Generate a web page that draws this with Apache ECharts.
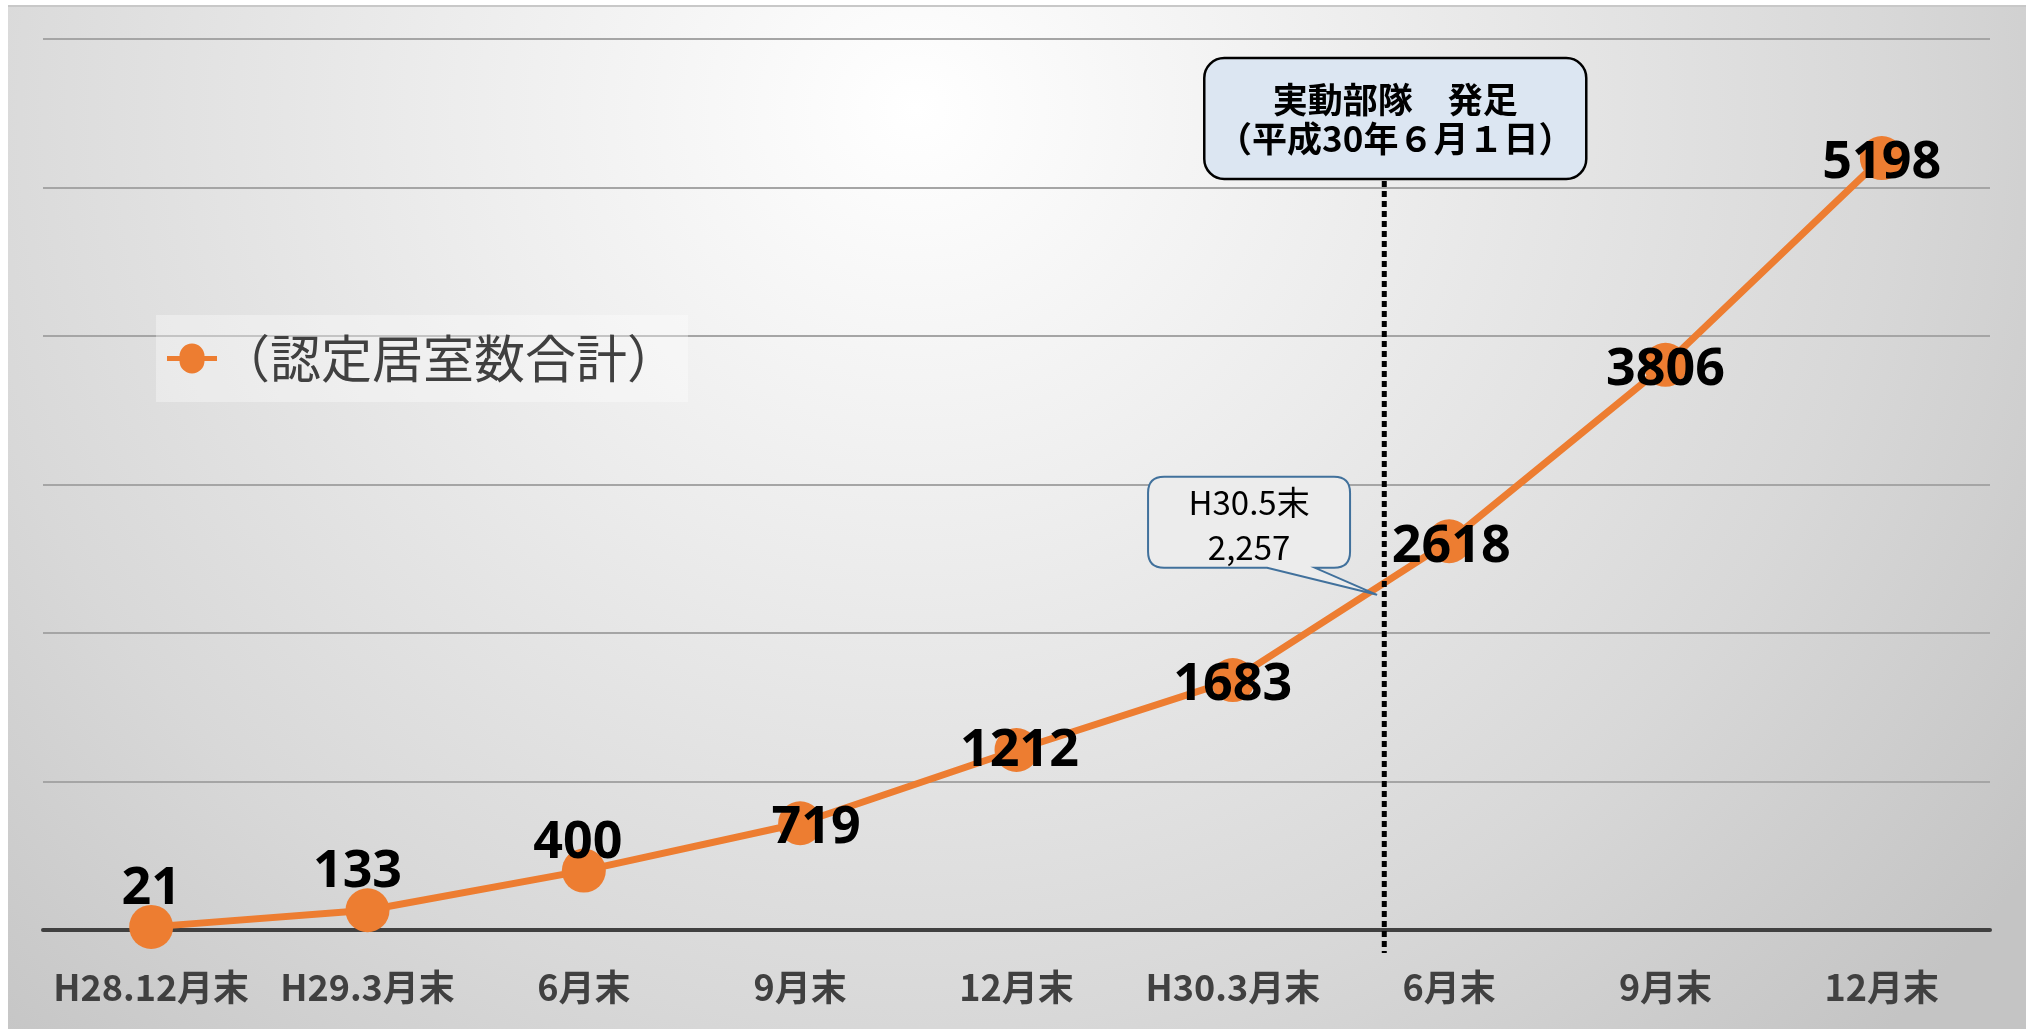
<!DOCTYPE html>
<html><head><meta charset="utf-8">
<script src="https://cdn.jsdelivr.net/npm/echarts@6/dist/echarts.min.js"></script>
<style>
html,body{margin:0;padding:0;background:#fff;}
#bg{position:absolute;left:8px;top:5px;width:2018px;height:1022px;
 background:radial-gradient(ellipse 80% 150% at 45% 10%, #ffffff 0%, #ececec 30%, #d8d8d8 60%, #c4c4c4 85%);
 border-top:2px solid #c8c8c8;}
#chart{position:absolute;left:0;top:0;width:2033px;height:1030px;}
</style></head>
<body><div id="bg"></div><div id="chart"></div>
<script>
// ---- data ----
const categories = ['H28.12月末','H29.3月末','6月末','9月末','12月末','H30.3月末','6月末','9月末','12月末'];
const seriesName = '（認定居室数合計）';
const roomTotals = [21,133,400,719,1212,1683,2618,3806,5198];
const yMin = 0, yMax = 6000, yInterval = 1000;
const launchPos = 5.7;            // 6月1日: between H30.3月末 and 6月末
const launchText = ['実動部隊\u3000発足','（平成30年６月１日）'];
const calloutPos = 5 + 2/3;       // H30.5末
const calloutValue = 2257;
const calloutLabel = 'H30.5末';

// ---- styling ----
const ORANGE = '#ed7d31';
const labelOffsets = [[0,-38],[-10,-38],[-6,-27],[16,5],[3,1],[0,5],[2,6],[0,5],[0,5]];
const CJK = '"Noto Sans CJK JP", "Noto Sans", sans-serif';
const NUM = '"Noto Sans", sans-serif';

const lineData = roomTotals.map((v, i) => ({
  value: v,
  label: { offset: labelOffsets[i] }
}));

function renderLaunch(params, api) {
  const p = api.coord([api.value(0), api.value(1)]);
  const cs = params.coordSys;
  const bottom = cs.y + cs.height;
  const cx = p[0] + 11, top = p[1] + 19, w = 382, h = 121;
  return {
    type: 'group',
    children: [
      { type: 'line', shape: { x1: p[0], y1: top + h + 2, x2: p[0], y2: bottom + 23 },
        style: { stroke: '#000', lineWidth: 5, lineDash: [6, 4] } },
      { type: 'rect', shape: { x: cx - w / 2, y: top, width: w, height: h, r: 20 },
        style: { fill: '#dce6f2', stroke: '#000', lineWidth: 2.5 } },
      { type: 'text', style: { text: launchText[0], x: cx, y: top + 42, align: 'center', verticalAlign: 'middle',
        fill: '#000', font: 'bold 35px ' + CJK } },
      { type: 'text', style: { text: launchText[1], x: cx, y: top + 81, align: 'center', verticalAlign: 'middle',
        fill: '#000', font: 'bold 35px ' + CJK } }
    ]
  };
}

function renderCallout(params, api) {
  const t = api.coord([api.value(0), api.value(1)]);
  const L = t[0] - 229, R = t[0] - 27, T = t[1] - 118, B = t[1] - 27, r = 16;
  const b1 = t[0] - 110, b2 = t[0] - 62;
  const d = `M${L + r},${T} H${R - r} Q${R},${T} ${R},${T + r} V${B - r} Q${R},${B} ${R - r},${B} H${b2} L${t[0]},${t[1]} L${b1},${B} H${L + r} Q${L},${B} ${L},${B - r} V${T + r} Q${L},${T} ${L + r},${T} Z`;
  const cx = (L + R) / 2;
  return {
    type: 'group',
    children: [
      { type: 'path', shape: { pathData: d }, style: { fill: '#ececec', stroke: '#41719c', lineWidth: 2 } },
      { type: 'text', style: { text: calloutLabel, x: cx, y: t[1] - 92, align: 'center', verticalAlign: 'middle',
        fill: '#000', font: '33px ' + CJK } },
      { type: 'text', style: { text: api.value(1).toLocaleString('en-US'), x: cx, y: t[1] - 47, align: 'center', verticalAlign: 'middle',
        fill: '#000', font: '33px ' + CJK } }
    ]
  };
}

const chart = echarts.init(document.getElementById('chart'), null, { renderer: 'canvas' });
chart.setOption({
  animation: false,
  backgroundColor: 'transparent',
  grid: { left: 43, right: 43, top: 39, bottom: 100, containLabel: false, outerBoundsMode: 'none' },
  legend: {
    data: [seriesName], left: 156, top: 315, orient: 'horizontal',
    backgroundColor: 'rgba(255,255,255,0.35)',
    padding: [18, 10, 18, 11],
    itemWidth: 60, itemHeight: 30, itemGap: 0,
    icon: 'path://M0,12 H15 A15,15 0 0 1 45,12 H60 V18 H45 A15,15 0 0 1 15,18 H0 Z',
    itemStyle: { color: ORANGE },
    textStyle: { fontSize: 51, color: '#404040', fontFamily: CJK, padding: [0, 0, 0, -8] },
    selectedMode: false
  },
  xAxis: [
    { type: 'category', data: categories, boundaryGap: true,
      axisLine: { lineStyle: { color: '#404040', width: 4 } },
      axisTick: { show: false },
      axisLabel: { interval: 0, fontSize: 36, fontWeight: 'bold', color: '#404040', margin: 39, fontFamily: CJK },
      splitLine: { show: false } },
    { type: 'value', min: -0.5, max: 8.5, show: false, splitLine: { show: false } }
  ],
  yAxis: {
    type: 'value', min: yMin, max: yMax, interval: yInterval,
    axisLine: { show: false }, axisTick: { show: false }, axisLabel: { show: false },
    splitLine: { lineStyle: { color: '#a5a5a5', width: 2 } }
  },
  series: [
    { name: seriesName, type: 'line', xAxisIndex: 0, data: lineData,
      symbol: 'circle', symbolSize: 44, z: 3,
      lineStyle: { color: ORANGE, width: 7 },
      itemStyle: { color: ORANGE },
      label: { show: true, position: 'inside', color: '#000', fontSize: 52, fontWeight: 'bold', fontFamily: NUM },
      emphasis: { disabled: true } },
    { type: 'custom', xAxisIndex: 1, z: 5, data: [[launchPos, yMax]], renderItem: renderLaunch, silent: true },
    { type: 'custom', xAxisIndex: 1, z: 4, data: [[calloutPos, calloutValue]], renderItem: renderCallout, silent: true }
  ]
});
</script>
</body></html>
